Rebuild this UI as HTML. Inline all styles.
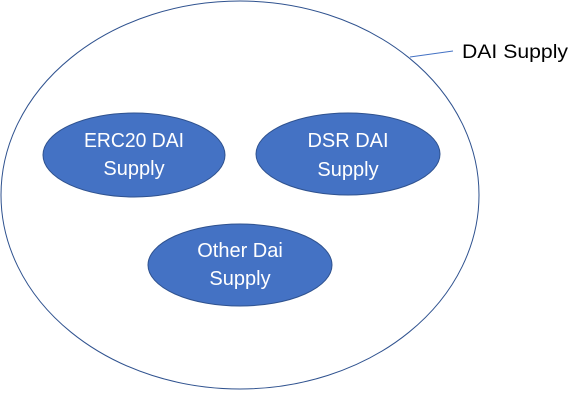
<!DOCTYPE html>
<html><head><style>html,body{margin:0;padding:0;background:#fff;}svg{display:block}</style></head>
<body>
<svg width="588" height="409" viewBox="0 0 588 409" xmlns="http://www.w3.org/2000/svg" font-family="'Liberation Sans', sans-serif">
<ellipse cx="240" cy="195" rx="239" ry="194" fill="#fff" stroke="#2F528F" stroke-width="1"/>
<line x1="410" y1="57" x2="453" y2="51" stroke="#4472C4" stroke-width="1"/>
<text x="462" y="58" font-size="19" fill="#000" textLength="106" lengthAdjust="spacingAndGlyphs">DAI Supply</text>
<g fill="#4472C4" stroke="#2F528F" stroke-width="1">
<ellipse cx="134" cy="155" rx="91" ry="42"/>
<ellipse cx="348" cy="154" rx="92" ry="41"/>
<ellipse cx="240" cy="265" rx="92" ry="41"/>
</g>
<g fill="#fff" font-size="20" text-anchor="middle">
<text x="134" y="147" textLength="100" lengthAdjust="spacingAndGlyphs">ERC20 DAI</text><text x="134" y="175">Supply</text>
<text x="348" y="147">DSR DAI</text><text x="348" y="176">Supply</text>
<text x="240" y="257">Other Dai</text><text x="240" y="285">Supply</text>
</g>
</svg>
</body></html>
